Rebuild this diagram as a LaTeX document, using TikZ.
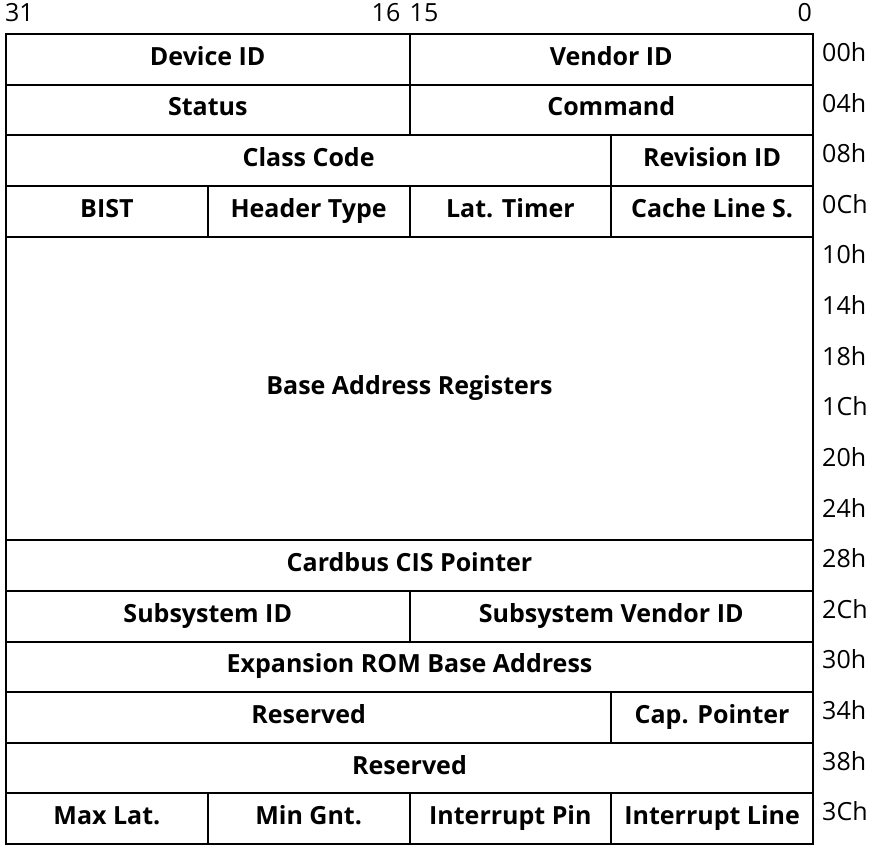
\documentclass[tikz,border=0pt]{standalone}
\usepackage{fontspec}
\setmainfont{Open Sans}

\begin{document}
\begin{tikzpicture}[x=201.75pt, y=-50.625pt,
	cell/.style = {draw, line width=2pt, anchor=north west, inner sep=0pt,
		minimum width=201.75pt, minimum height=50.625pt,
		text height=19pt, text depth=7pt,
		font=\fontsize{25}{30}\selectfont\bfseries},
	w2/.style = {minimum width=403.5pt},
	w3/.style = {minimum width=605.25pt},
	w4/.style = {minimum width=807pt},
	h6/.style = {minimum height=303.75pt},
	bitlabel/.style = {inner sep=0pt, yshift=20.5pt, font=\fontsize{25}{30}\selectfont},
	offlabel/.style = {anchor=west, inner sep=0pt, xshift=10pt, yshift=-19pt,
		font=\fontsize{25}{30}\selectfont}]
	\useasboundingbox (-5pt,33pt) rectangle (865pt,-813pt);
	% bit numbers
	\node[bitlabel, anchor=west] (b31) at (0,0) {31};
	\node[bitlabel, anchor=east, xshift=-8pt] (b16) at (2,0) {16};
	\node[bitlabel, anchor=west, xshift=1pt] (b15) at (2,0) {15};
	\node[bitlabel, anchor=east] (b0) at (4,0) {0};
	% header fields
	\node[cell, w2] (devid) at (0,0) {Device ID};
	\node[cell, w2] (vendid) at (2,0) {Vendor ID};
	\node[cell, w2] (status) at (0,1) {Status};
	\node[cell, w2] (command) at (2,1) {Command};
	\node[cell, w3] (class) at (0,2) {Class Code};
	\node[cell] (revid) at (3,2) {Revision ID};
	\node[cell] (bist) at (0,3) {BIST};
	\node[cell] (hdrtype) at (1,3) {Header Type};
	\node[cell] (lattimer) at (2,3) {Lat. Timer};
	\node[cell] (cacheline) at (3,3) {Cache Line S.};
	\node[cell, w4, h6] (bar) at (0,4) {Base Address Registers};
	\node[cell, w4] (cardbus) at (0,10) {Cardbus CIS Pointer};
	\node[cell, w2] (subsysid) at (0,11) {Subsystem ID};
	\node[cell, w2] (subvendid) at (2,11) {Subsystem Vendor ID};
	\node[cell, w4] (exprom) at (0,12) {Expansion ROM Base Address};
	\node[cell, w3] (resvdA) at (0,13) {Reserved};
	\node[cell] (cappointer) at (3,13) {Cap. Pointer};
	\node[cell, w4] (resvdB) at (0,14) {Reserved};
	\node[cell] (maxlat) at (0,15) {Max Lat.};
	\node[cell] (mingnt) at (1,15) {Min Gnt.};
	\node[cell] (intpin) at (2,15) {Interrupt Pin};
	\node[cell] (intline) at (3,15) {Interrupt Line};
	% register offsets
	\foreach \r/\off in {0/00h,1/04h,2/08h,3/0Ch,4/10h,5/14h,6/18h,7/1Ch,
		8/20h,9/24h,10/28h,11/2Ch,12/30h,13/34h,14/38h,15/3Ch}
		\node[offlabel] (off\r) at (4,\r) {\off};
\end{tikzpicture}
\end{document}
